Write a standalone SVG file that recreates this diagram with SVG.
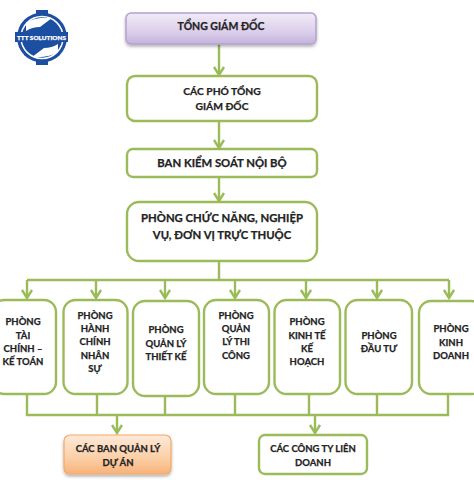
<svg xmlns="http://www.w3.org/2000/svg" width="474" height="480" viewBox="0 0 474 480">
<defs>
<linearGradient id="pu" x1="0" y1="0" x2="0" y2="1"><stop offset="0" stop-color="#f1ebf7"/><stop offset="0.6" stop-color="#dccfeb"/><stop offset="1" stop-color="#c4b2dc"/></linearGradient>
<linearGradient id="or" x1="0" y1="0" x2="0" y2="1"><stop offset="0" stop-color="#fde9d9"/><stop offset="0.6" stop-color="#fbcfa6"/><stop offset="1" stop-color="#f7b27a"/></linearGradient>
<filter id="sh" x="-10%" y="-20%" width="120%" height="150%"><feDropShadow dx="0" dy="2" stdDeviation="1.500" flood-color="#000" flood-opacity="0.3"/></filter>
<marker id="ah" markerUnits="userSpaceOnUse" markerWidth="14" markerHeight="12" refX="12" refY="6" orient="auto"><path d="M4 1L12 6L4 11" fill="none" stroke="#9bbb59" stroke-width="2.400"/></marker>
</defs>
<style>
.b{fill:#fff;stroke:#9bbb59;stroke-width:2.400}
.c{fill:none;stroke:#9bbb59;stroke-width:2.400}
text{font-family:"Lato","Liberation Sans",sans-serif;font-weight:700;font-size:9.500px;fill:#222;stroke:#222;stroke-width:0.250;text-anchor:middle}
.t{font-size:10.500px}
.m{font-size:10.300px}
.l{font-size:11.300px}
</style>
<g id="logo">
<path d="M36 10H48V16H36ZM36 59H48V65H36Z" fill="#1c4ea1"/>
<circle cx="42" cy="37.500" r="25" fill="#1c4ea1"/>
<circle cx="42" cy="37.500" r="21" fill="none" stroke="#fff" stroke-width="1.500"/>
<path d="M26 23Q34 17 52 18L40 27Q32 27 26 31ZM58 52Q50 58 32 57L44 48Q52 48 58 44Z" fill="#fff"/>
<rect x="15" y="32" width="53" height="10" fill="#1c4ea1"/>
<text x="41.500" y="40" style="font-size:6.400px;fill:#fff;stroke:#fff;font-weight:900">TTT SOLUTIONS</text>
</g>
<g id="connectors">
<path class="c" marker-end="url(#ah)" d="M219 44V75"/>
<path class="c" marker-end="url(#ah)" d="M219 121V148"/>
<path class="c" marker-end="url(#ah)" d="M219 177V201"/>
<path class="c" d="M219 261V280M27 280H449"/>
<path class="c" marker-end="url(#ah)" d="M27 280V298"/>
<path class="c" marker-end="url(#ah)" d="M96 280V298"/>
<path class="c" marker-end="url(#ah)" d="M165 280V298"/>
<path class="c" marker-end="url(#ah)" d="M235 280V298"/>
<path class="c" marker-end="url(#ah)" d="M306 280V298"/>
<path class="c" marker-end="url(#ah)" d="M377 280V298"/>
<path class="c" marker-end="url(#ah)" d="M449 280V298"/>
<path class="c" d="M27 394V415H448V394M97 394V415M165 396V415M235 394V415M309 394V415M377 394V415"/>
<path class="c" marker-end="url(#ah)" d="M117 415V433"/>
<path class="c" marker-end="url(#ah)" d="M315 415V433"/>
</g>
<g id="n1"><rect x="126" y="13" width="190" height="31" rx="5" fill="url(#pu)" stroke="#b3a2cf" stroke-width="1.500" filter="url(#sh)"/><text x="221" y="30" class="t">TỔNG GIÁM ĐỐC</text></g>
<g id="n2"><rect class="b" x="127" y="76" width="190" height="45" rx="8"/><text x="222" y="95" class="m">CÁC PHÓ TỔNG</text><text x="222" y="110" class="m">GIÁM ĐỐC</text></g>
<g id="n3"><rect class="b" x="127" y="149" width="190" height="28" rx="6"/><text x="222" y="167" class="l">BAN KIỂM SOÁT NỘI BỘ</text></g>
<g id="n4"><rect class="b" x="127" y="202" width="190" height="59" rx="12"/><text x="222" y="222" class="l">PHÒNG CHỨC NĂNG, NGHIỆP</text><text x="222" y="239" class="l">VỤ, ĐƠN VỊ TRỰC THUỘC</text></g>
<g id="p1"><rect class="b" x="-8" y="300" width="64" height="94" rx="12"/><text x="23" y="325">PHÒNG</text><text x="23" y="339">TÀI</text><text x="23" y="352">CHÍNH –</text><text x="23" y="365">KẾ TOÁN</text></g>
<g id="p2"><rect class="b" x="63.500" y="300" width="64" height="94" rx="12"/><text x="95" y="319">PHÒNG</text><text x="95" y="332">HÀNH</text><text x="95" y="345">CHÍNH</text><text x="95" y="359">NHÂN</text><text x="95" y="372">SỰ</text></g>
<g id="p3"><rect class="b" x="133" y="301" width="66" height="95" rx="12"/><text x="166" y="333">PHÒNG</text><text x="166" y="347">QUẢN LÝ</text><text x="166" y="360">THIẾT KẾ</text></g>
<g id="p4"><rect class="b" x="204" y="300" width="65" height="94" rx="12"/><text x="236" y="319">PHÒNG</text><text x="236" y="332">QUẢN</text><text x="236" y="345">LÝ THI</text><text x="236" y="359">CÔNG</text></g>
<g id="p5"><rect class="b" x="274.500" y="300" width="65.500" height="94" rx="12"/><text x="307" y="325">PHÒNG</text><text x="307" y="339">KINH TẾ</text><text x="307" y="352">KẾ</text><text x="307" y="365">HOẠCH</text></g>
<g id="p6"><rect class="b" x="345.500" y="300" width="66.500" height="94" rx="12"/><text x="379" y="339">PHÒNG</text><text x="379" y="352">ĐẦU TƯ</text></g>
<g id="p7"><rect class="b" x="419" y="301" width="64" height="93" rx="12"/><text x="451" y="332">PHÒNG</text><text x="451" y="346">KINH</text><text x="451" y="359">DOANH</text></g>
<g id="b1"><rect x="64" y="435" width="107" height="39" rx="6" fill="url(#or)" stroke="#f2a968" stroke-width="1.200" filter="url(#sh)"/><text x="118" y="452">CÁC BAN QUẢN LÝ</text><text x="118" y="466">DỰ ÁN</text></g>
<g id="b2"><rect class="b" x="259" y="435" width="108" height="39" rx="6"/><text x="313" y="452">CÁC CÔNG TY LIÊN</text><text x="313" y="466">DOANH</text></g>
</svg>
